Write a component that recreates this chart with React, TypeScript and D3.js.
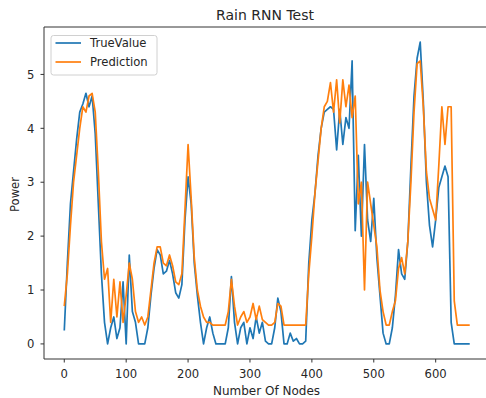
import React from "react";
import * as d3 from "d3";

const nodeStep = 5;
const trueValue: number[] = [
  0.25, 1.5, 2.6, 3.2, 3.8, 4.3, 4.45, 4.65, 4.4, 4.6,
  3.9, 2.6, 1.3, 0.4, 0.0, 0.3, 0.5, 0.1, 0.3, 1.15,
  0.0, 1.65, 0.6, 0.4, 0.0, 0.0, 0.0, 0.3, 0.9, 1.4,
  1.75, 1.65, 1.3, 1.35, 1.55, 1.3, 0.95, 0.85, 1.1, 2.3,
  3.1, 2.6, 1.5, 0.9, 0.4, 0.0, 0.3, 0.5, 0.2, 0.0,
  0.0, 0.0, 0.0, 0.3, 1.25, 0.4, 0.0, 0.3, 0.4, 0.0,
  0.3, 0.1, 0.5, 0.2, 0.4, 0.05, 0.0, 0.0, 0.3, 0.85,
  0.6, 0.0, 0.0, 0.2, 0.05, 0.1, 0.0, 0.0, 0.05, 1.5,
  2.3, 2.8, 3.5, 4.0, 4.3, 4.35, 4.4, 4.35, 3.6, 4.35,
  3.7, 4.2, 4.0, 5.25, 2.1, 3.5, 2.0, 3.7, 2.3, 1.9,
  2.7, 1.6, 0.9, 0.2, 0.0, 0.0, 0.3, 0.9, 1.75, 1.3,
  1.2, 1.9, 3.3, 4.6, 5.3, 5.6, 4.5, 3.0, 2.2, 1.8,
  2.3, 2.9, 3.1, 3.3, 3.1, 0.4, 0.0, 0.0, 0.0, 0.0,
  0.0, 0.0,
];
const prediction: number[] = [
  0.7, 1.3, 2.2, 3.0, 3.5, 4.0, 4.4, 4.3, 4.6, 4.65,
  4.3, 3.2, 1.9, 1.2, 1.4, 0.4, 1.2, 0.5, 1.15, 0.4,
  0.9, 1.5, 1.2, 0.6, 0.4, 0.5, 0.35, 0.5, 1.0, 1.5,
  1.8, 1.8, 1.5, 1.45, 1.65, 1.45, 1.15, 1.1, 1.3, 2.5,
  3.7, 2.7, 1.6, 1.0, 0.7, 0.5, 0.4, 0.4, 0.35, 0.35,
  0.35, 0.35, 0.35, 0.6, 1.2, 0.7, 0.35, 0.5, 0.6, 0.4,
  0.5, 0.75, 0.45, 0.7, 0.45, 0.4, 0.35, 0.35, 0.4, 0.75,
  0.7, 0.35, 0.35, 0.35, 0.35, 0.35, 0.35, 0.35, 0.35, 1.3,
  2.0, 2.8, 3.4, 4.0, 4.4, 4.5, 4.85, 4.3, 4.9, 4.1,
  4.9, 4.4, 4.8, 4.2, 4.6, 2.6, 3.0, 1.0, 3.0, 2.6,
  2.2, 1.8, 1.0, 0.6, 0.35, 0.35, 0.6, 0.8, 1.4, 1.6,
  1.3, 1.9, 3.0, 4.3, 5.2, 5.25, 4.4, 3.2, 2.7, 2.5,
  2.3, 3.3, 4.4, 3.7, 4.4, 4.4, 0.8, 0.35, 0.35, 0.35,
  0.35, 0.35,
];
const xTicks = [0, 100, 200, 300, 400, 500, 600];
const yTicks = [0, 1, 2, 3, 4, 5];
const seriesNames = ["TrueValue", "Prediction"];
const colors = ["#1f77b4", "#ff7f0e"];

const W = 486;
const H = 398;
const plot = { left: 44, right: 490, top: 27, bottom: 359 };
const font = "'DejaVu Sans', sans-serif";
const textColor = "#262626";
const fs = 11.6;

export default function App() {
  const nodes = trueValue.map((_, i) => i * nodeStep);
  const xMax = nodes[nodes.length - 1];
  const yMax = d3.max([...trueValue, ...prediction]) as number;
  const x = d3
    .scaleLinear()
    .domain([-0.05 * xMax, xMax * 1.05])
    .range([plot.left, plot.right]);
  const y = d3
    .scaleLinear()
    .domain([-0.05 * yMax, yMax * 1.05])
    .range([plot.bottom, plot.top]);
  const line = d3
    .line<number>()
    .x((_, i) => x(nodes[i]))
    .y((d) => y(d));
  const series = [trueValue, prediction];

  return (
    <svg
      width={W}
      height={H}
      style={{ position: "absolute", left: 0, top: 0, background: "#fff" }}
    >
      <defs>
        <clipPath id="clip">
          <rect x={plot.left} y={plot.top} width={plot.right - plot.left} height={plot.bottom - plot.top} />
        </clipPath>
      </defs>
      <text x={265} y={19.5} textAnchor="middle" fontFamily={font} fontSize={14} fill={textColor}>
        Rain RNN Test
      </text>
      <g clipPath="url(#clip)">
        {series.map((s, k) => (
          <path key={k} d={line(s) || ""} fill="none" stroke={colors[k]} strokeWidth={1.7} strokeLinejoin="round" />
        ))}
      </g>
      <line x1={plot.left} x2={plot.left} y1={plot.top} y2={plot.bottom} stroke="#333" strokeWidth={1} />
      <line x1={plot.left} x2={plot.right} y1={plot.bottom} y2={plot.bottom} stroke="#333" strokeWidth={1} />
      <line x1={plot.left} x2={plot.right} y1={plot.top} y2={plot.top} stroke="#333" strokeWidth={1} />
      {xTicks.map((t) => (
        <g key={t}>
          <line x1={x(t)} x2={x(t)} y1={plot.bottom} y2={plot.bottom + 3.5} stroke="#333" strokeWidth={1} />
          <text x={x(t)} y={377.5} textAnchor="middle" fontFamily={font} fontSize={fs} fill={textColor}>
            {t}
          </text>
        </g>
      ))}
      {yTicks.map((t) => (
        <g key={t}>
          <line x1={plot.left - 3.5} x2={plot.left} y1={y(t)} y2={y(t)} stroke="#333" strokeWidth={1} />
          <text x={34.5} y={y(t) + 4.2} textAnchor="end" fontFamily={font} fontSize={fs} fill={textColor}>
            {t}
          </text>
        </g>
      ))}
      <text x={266.5} y={394.5} textAnchor="middle" fontFamily={font} fontSize={12} fill={textColor}>
        Number Of Nodes
      </text>
      <text
        transform={`translate(18.5,194.5) rotate(-90)`}
        textAnchor="middle"
        fontFamily={font}
        fontSize={fs}
        fill={textColor}
      >
        Power
      </text>
      <rect x={51} y={35.5} width={106} height={39.5} rx={2.5} fill="#fff" fillOpacity={0.8} stroke="#d0d0d0" strokeWidth={1} />
      {seriesNames.map((n, k) => (
        <g key={n}>
          <line x1={55.5} x2={81} y1={43 + k * 19} y2={43 + k * 19} stroke={colors[k]} strokeWidth={1.7} />
          <text x={90} y={47.2 + k * 19} fontFamily={font} fontSize={fs} fill={textColor}>
            {n}
          </text>
        </g>
      ))}
    </svg>
  );
}
